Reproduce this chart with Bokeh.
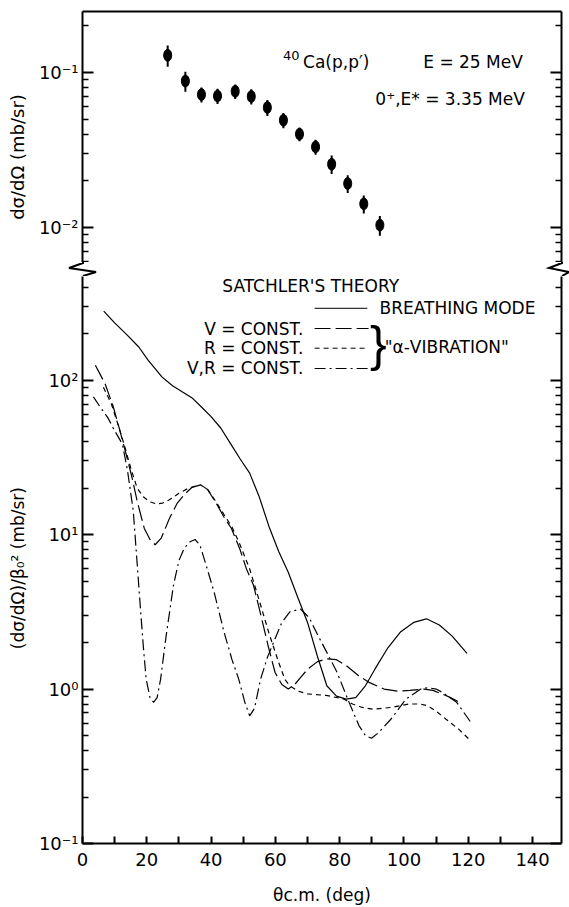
from bokeh.plotting import figure
from bokeh.models import (LogAxis, LinearAxis, FixedTicker, CustomJSTickFormatter,
                          Range1d, Label, ColumnDataSource, Div)
from bokeh.layouts import column
from bokeh.embed import file_html
from bokeh.resources import INLINE

FONT = "DejaVu Sans"

# ---------------- data ----------------
exp_theta = [26.5, 32, 37, 42, 47.5, 52.5, 57.5, 62.5, 67.5, 72.5, 77.5, 82.5, 87.5, 92.5]
exp_sigma = [0.129, 0.088, 0.072, 0.0705, 0.0755, 0.070, 0.0594, 0.0492, 0.040, 0.0331,
             0.0256, 0.0192, 0.0142, 0.01035]
exp_err = [0.02, 0.013, 0.008, 0.008, 0.008, 0.008, 0.007, 0.0055, 0.004, 0.0037,
           0.0035, 0.0025, 0.0019, 0.0015]

bm_theta = [6.6, 10, 14, 17.5, 20.4, 24.7, 28, 31, 34, 37, 40, 43, 46, 49, 52, 55, 58, 61,
            64, 67, 70, 73, 76, 79, 82, 85, 88, 91, 95, 99, 103, 107, 111, 115, 119.6]
bm_sigma = [280, 235, 195, 164, 135, 105, 92, 84, 77, 67, 58, 49, 39, 31, 25, 17.5, 11.3, 7.8,
            5.7, 3.9, 2.7, 1.65, 1.05, 0.9, 0.86, 0.88, 1.05, 1.35, 1.85, 2.35, 2.7, 2.85, 2.6,
            2.2, 1.7]

v_theta = [4, 7, 9.5, 11.3, 13.6, 15.5, 17, 19.2, 21, 22.6, 24.5, 27.1, 29.5, 31.7, 34, 36.8,
           39, 41.8, 44, 46.3, 49, 51, 53.2, 55.5, 57.7, 59.9, 62, 64, 66, 68, 70.1, 73, 75.8,
           79, 82, 85.9, 89.3, 93.8, 98, 101.8, 106.2, 109, 111.8, 114, 116.4, 118]
v_sigma = [125, 95, 68, 50, 33, 23, 16.5, 11, 9.3, 8.6, 9.5, 12.8, 16, 18.2, 20.2, 21,
           19.5, 15.7, 13, 11, 8, 6, 4.7, 3, 1.92, 1.28, 1.07, 1.0, 1.07, 1.2, 1.35, 1.5, 1.57,
           1.55, 1.42, 1.22, 1.1, 1.0, 0.97, 0.98, 1.0, 0.98, 0.93, 0.89, 0.84, 0.8]

r_theta = [6.5, 9, 11, 13, 15, 17, 19, 21, 23, 24.9, 27, 30, 33, 36.7, 39, 41.8, 44, 46.5,
           49, 52, 55.4, 58, 61, 63, 64.5, 67, 70, 75.8, 81.4, 84, 87, 90.5, 96, 101.6, 105,
           107.3, 110, 113, 117, 120.4]
r_sigma = [90, 70, 52, 38, 27, 20, 17.5, 16.3, 15.8, 16, 16.8, 18.5, 20, 21, 19.5, 16, 13.5,
           11.2, 8.6, 6, 3.5, 2.3, 1.49, 1.15, 1.05, 0.97, 0.93, 0.91, 0.86, 0.8, 0.76, 0.74,
           0.76, 0.8, 0.8, 0.78, 0.72, 0.64, 0.55, 0.47]

vr_theta = [3.4, 5.5, 7.9, 10, 12.4, 14, 15.8, 17, 18.1, 19, 19.8, 21, 22.1, 23.2, 24.3, 26,
            28.3, 30, 31.7, 33.5, 35, 36.5, 38.4, 41, 44, 46.5, 48.6, 50.5, 52, 53.5, 55.4,
            57.5, 59.9, 62, 64.5, 67.8, 70.5, 73.5, 76.5, 79.2, 82.5, 86, 88, 89.9, 92, 96,
            100.6, 105.2, 107.4, 110, 112, 116.4, 121]
vr_sigma = [78, 67, 57, 47, 38.6, 26, 14.2, 6.5, 3.16, 1.8, 1.16, 0.88, 0.82, 0.88, 1.16, 2.2,
            4.7, 6.8, 8.2, 9.0, 9.3, 8.6, 6.4, 4.2, 2.35, 1.55, 1.16, 0.82, 0.67, 0.75, 1.16,
            1.6, 2.12, 2.7, 3.16, 3.3, 2.9, 2.17, 1.65, 1.28, 0.86, 0.58, 0.5, 0.48, 0.52, 0.64,
            0.86, 1.0, 1.02, 1.0, 0.95, 0.82, 0.6]

x_major = [0, 20, 40, 60, 80, 100, 120, 140]
x_minor = [10, 30, 50, 70, 90, 110, 130]
top_major = [0.01, 0.1]
bot_major = [0.1, 1, 10, 100]

# ---------------- helpers ----------------
SUP = CustomJSTickFormatter(code="""
const s = {"-":"\u207b","0":"\u2070","1":"\u00b9","2":"\u00b2","3":"\u00b3"};
const e = Math.round(Math.log10(tick));
return "10" + String(e).split("").map(c => s[c]).join("");
""")
BLANK = CustomJSTickFormatter(code="return '';")


def minors(decades):
    out = []
    for d in decades:
        for k in range(2, 10):
            out.append(round(k * d, 10))
    return out


def style_axis(ax):
    ax.axis_line_width = 2
    ax.major_tick_line_width = 2
    ax.minor_tick_line_width = 1.5
    ax.major_tick_in = 11
    ax.major_tick_out = 0
    ax.minor_tick_in = 6
    ax.minor_tick_out = 0
    ax.major_label_text_font = FONT
    ax.major_label_text_font_size = "18px"
    ax.major_label_text_color = "black"
    ax.axis_label_text_font = FONT
    ax.axis_label_text_font_size = "17px"
    ax.axis_label_text_font_style = "normal"
    ax.axis_label_text_color = "black"
    ax.major_label_standoff = 4


def lab(p, x, y, text, size="17px", align="left", font=FONT):
    p.add_layout(Label(x=x, y=y, text=text, text_font=font, text_font_size=size,
                       text_align=align, text_baseline="middle", text_color="black"))


xr = Range1d(0, 149)

# ---------------- top panel ----------------
p1 = figure(width=569, height=262, x_range=xr, y_range=Range1d(0.00594, 0.2473),
            y_axis_type="log", x_axis_location=None, y_axis_location=None,
            output_backend="svg", toolbar_location=None,
            min_border_left=82, min_border_right=8, min_border_top=11, min_border_bottom=0)
p1.outline_line_color = None
p1.grid.visible = False

t_tick = FixedTicker(ticks=top_major, minor_ticks=minors([0.001, 0.01, 0.1]))
a1l = LogAxis(ticker=t_tick, formatter=SUP, axis_label="dσ/dΩ        (mb/sr)")
style_axis(a1l)
a1l.axis_label_text_font_size = "18px"
a1l.axis_label_standoff = 8
p1.add_layout(a1l, "left")
a1r = LogAxis(ticker=t_tick, formatter=BLANK)
style_axis(a1r)
p1.add_layout(a1r, "right")
a1t = LinearAxis(ticker=FixedTicker(ticks=[]), formatter=BLANK)
a1t.axis_line_width = 2
p1.add_layout(a1t, "above")

src = ColumnDataSource(dict(x=exp_theta, y=exp_sigma,
                            lo=[v - e for v, e in zip(exp_sigma, exp_err)],
                            hi=[v + e for v, e in zip(exp_sigma, exp_err)]))
p1.segment(x0="x", y0="lo", x1="x", y1="hi", source=src, line_color="black", line_width=2)
p1.ellipse(x="x", y="y", width=8, height=12, width_units="screen", height_units="screen",
           source=src, fill_color="black", line_color="black")

lab(p1, 62.4, 0.129, "40", size="13px")
lab(p1, 68.6, 0.116, "Ca(p,p′)")
lab(p1, 106, 0.116, "E = 25 MeV")
lab(p1, 91.1, 0.067, "0⁺,E* = 3.35 MeV")

# ---------------- axis break strip (zig-zag marks on both vertical axes) ----------------
BREAK_SVG = (
    '<svg xmlns="http://www.w3.org/2000/svg" width="569" height="14" '
    'style="display:block">'
    '<polyline points="83,0 83,1 69,6 96,10 83,14" fill="none" stroke="black" '
    'stroke-width="2" stroke-linejoin="miter"/>'
    '<polyline points="562,0 562,1 549,6 569,10 562,14" fill="none" stroke="black" '
    'stroke-width="2" stroke-linejoin="miter"/>'
    '</svg>'
)
brk = Div(text=BREAK_SVG, width=569, height=14, margin=(0, 0, 0, 0),
          styles={"padding": "0", "margin": "0", "line-height": "0"})

# ---------------- bottom panel ----------------
p2 = figure(width=569, height=631, x_range=xr, y_range=Range1d(0.1, 469),
            y_axis_type="log", x_axis_location=None, y_axis_location=None,
            output_backend="svg", toolbar_location=None,
            min_border_left=82, min_border_right=8, min_border_top=0, min_border_bottom=62)
p2.outline_line_color = None
p2.grid.visible = False

b_tick = FixedTicker(ticks=bot_major, minor_ticks=minors([0.1, 1, 10, 100]))
a2l = LogAxis(ticker=b_tick, formatter=SUP, axis_label="(dσ/dΩ)/β₀²    (mb/sr)")
style_axis(a2l)
a2l.axis_label_standoff = 8
p2.add_layout(a2l, "left")
a2r = LogAxis(ticker=b_tick, formatter=BLANK)
style_axis(a2r)
p2.add_layout(a2r, "right")
a2b = LinearAxis(ticker=FixedTicker(ticks=x_major, minor_ticks=x_minor),
                 axis_label="θc.m. (deg)")
style_axis(a2b)
a2b.major_tick_in = 7
a2b.minor_tick_in = 7
a2b.minor_tick_line_width = 2
a2b.major_label_standoff = 9
a2b.axis_label_standoff = 16
p2.add_layout(a2b, "below")

LW = 1.2
p2.line(bm_theta, bm_sigma, line_color="black", line_width=LW)
p2.line(v_theta, v_sigma, line_color="black", line_width=LW, line_dash="16 5")
p2.line(r_theta, r_sigma, line_color="black", line_width=LW, line_dash="5 4")
p2.line(vr_theta, vr_sigma, line_color="black", line_width=LW, line_dash="11 4 2 4")

# legend
lab(p2, 73.5, 408, "SATCHLER'S    THEORY", align="center")
p2.line([72.2, 88.6], [292, 292], line_color="black", line_width=1)
lab(p2, 92.4, 292, "BREATHING MODE")
for txt, y, dash in [("V = CONST.", 216, "16 5"), ("R = CONST.", 161, "5 4"),
                     ("V,R = CONST.", 119, "11 4 2 4")]:
    lab(p2, 68.7, y, txt, align="right")
    p2.line([72.2, 89], [y, y], line_color="black", line_width=1, line_dash=dash)
lab(p2, 89.4, 172, "}", size="50px", font="Liberation Sans")
lab(p2, 94.0, 163, '"α-VIBRATION"')

layout = column(p1, brk, p2, spacing=0)
open("out.html", "w").write(file_html(layout, INLINE))
